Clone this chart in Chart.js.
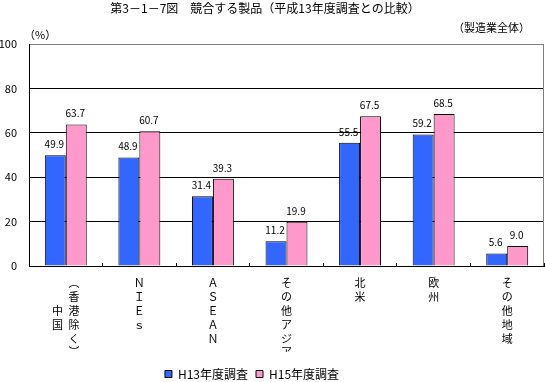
<!DOCTYPE html>
<html>
<head>
<meta charset="utf-8">
<script src="https://cdn.jsdelivr.net/npm/chart.js@4/dist/chart.umd.min.js"></script>
<style>
  html, body { margin: 0; padding: 0; background: #fff; }
  #wrap { width: 545px; height: 382px; }
</style>
</head>
<body>
<div id="wrap"><canvas id="chart"></canvas></div>
<script>
const categories = ['中国（香港除く）', 'NIEs', 'ASEAN', 'その他アジア', '北米', '欧州', 'その他地域']
// vertical labels, one row per line (the first one has two columns)
const tickLines = [
  ['\u3000\u2002︵', '\u3000\u2002香', '中\u2002港', '国\u2002除', '\u3000\u2002く', '\u3000\u2002︶'],
  ['Ｎ', 'Ｉ', 'Ｅ', 'ｓ'],
  ['Ａ', 'Ｓ', 'Ｅ', 'Ａ', 'Ｎ'],
  ['そ', 'の', '他', 'ア', 'ジ', 'ア'],
  ['北', '米'],
  ['欧', '州'],
  ['そ', 'の', '他', '地', '域']
]
const seriesNames = ['H13年度調査', 'H15年度調査']
const h13 = [49.9, 48.9, 31.4, 11.2, 55.5, 59.2, 5.6]
const h15 = [63.7, 60.7, 39.3, 19.9, 67.5, 68.5, 9.0]
const yTicks = [0, 20, 40, 60, 80, 100]

const FONT = '"Noto Sans CJK JP", "Noto Sans", sans-serif'
const PLOT_BOTTOM = 266

// titles and the small notes round the plot
const textPlugin = {
  id: 'texts',
  afterDraw(chart) {
    const ctx = chart.ctx
    ctx.save()
    ctx.fillStyle = '#000'
    ctx.textBaseline = 'middle'
    ctx.font = '12px ' + FONT
    ctx.textAlign = 'center'
    ctx.fillText('第3－1－7図　競合する製品（平成13年度調査との比較）', 265, 8)
    ctx.font = '11px ' + FONT
    ctx.textAlign = 'right'
    ctx.fillText('（製造業全体）', 530, 28)
    ctx.textAlign = 'left'
    ctx.fillText('（%）', 24, 35)

    // right frame line
    const a = chart.chartArea
    ctx.strokeStyle = '#808080'
    ctx.lineWidth = 1
    ctx.beginPath()
    ctx.moveTo(Math.round(a.right) - 0.5, a.top)
    ctx.lineTo(Math.round(a.right) - 0.5, a.bottom)
    ctx.stroke()
    ctx.restore()
  }
}

// value labels over the bars
const valuePlugin = {
  id: 'values',
  afterDatasetsDraw(chart) {
    const ctx = chart.ctx
    ctx.save()
    ctx.fillStyle = '#000'
    ctx.font = '10px ' + FONT
    ctx.textAlign = 'center'
    ctx.textBaseline = 'middle'
    chart.data.datasets.forEach((ds, i) => {
      chart.getDatasetMeta(i).data.forEach((bar, j) => {
        ctx.fillText(ds.data[j].toFixed(1), bar.x - 1, bar.y - 11)
      })
    })
    ctx.restore()
  }
}

// the legend in the reference sits left of centre and low
const legendShift = {
  id: 'legendShift',
  afterLayout(chart) {
    const lg = chart.legend
    if (!lg) return
    lg.left -= 20
    lg.right -= 20
    const dy = 375 - (lg.top + 8 + 7)
    lg.top += dy
    lg.bottom += dy
  }
}

new Chart(document.getElementById('chart'), {
  type: 'bar',
  data: {
    labels: tickLines,
    datasets: [
      {
        label: seriesNames[0],
        data: h13,
        backgroundColor: '#3366FF',
        borderColor: '#000',
        borderWidth: 1,
        categoryPercentage: 0.57,
        barPercentage: 1
      },
      {
        label: seriesNames[1],
        data: h15,
        backgroundColor: '#FF99CC',
        borderColor: '#000',
        borderWidth: 1,
        categoryPercentage: 0.57,
        barPercentage: 1
      }
    ]
  },
  options: {
    responsive: true,
    maintainAspectRatio: false,
    animation: false,
    layout: { padding: { left: 0, right: 1, top: 44, bottom: 0 } },
    plugins: {
      title: { display: false },
      tooltip: { enabled: false },
      legend: {
        position: 'bottom',
        labels: {
          boxWidth: 7,
          boxHeight: 7,
          padding: 8,
          color: '#000',
          font: { family: FONT, size: 12 }
        }
      }
    },
    scales: {
      x: {
        grid: { drawOnChartArea: false, drawTicks: true, tickLength: -3, color: '#000', offset: true },
        border: { color: '#000' },
        ticks: {
          color: '#000',
          font: { family: FONT, size: 11, lineHeight: 1.26 },
          padding: 13,
          maxRotation: 0,
          autoSkip: false
        },
        afterFit(s) {
          // keep the plot bottom where the reference has it
          const lg = s.chart.legend
          const lh = lg ? lg.height : 0
          s.height = 382 - lh - PLOT_BOTTOM
        }
      },
      y: {
        min: 0,
        max: 100,
        afterBuildTicks(s) { s.ticks = yTicks.map(v => ({ value: v })) },
        grid: {
          drawTicks: false,
          color: (c) => c.tick && c.tick.value === 100 ? '#808080' : '#000'
        },
        border: { color: '#000' },
        ticks: {
          color: '#000',
          font: { family: FONT, size: 11 },
          padding: 12
        },
        afterFit(s) { s.width = 29 }
      }
    }
  },
  plugins: [textPlugin, valuePlugin, legendShift]
})
</script>
</body>
</html>
